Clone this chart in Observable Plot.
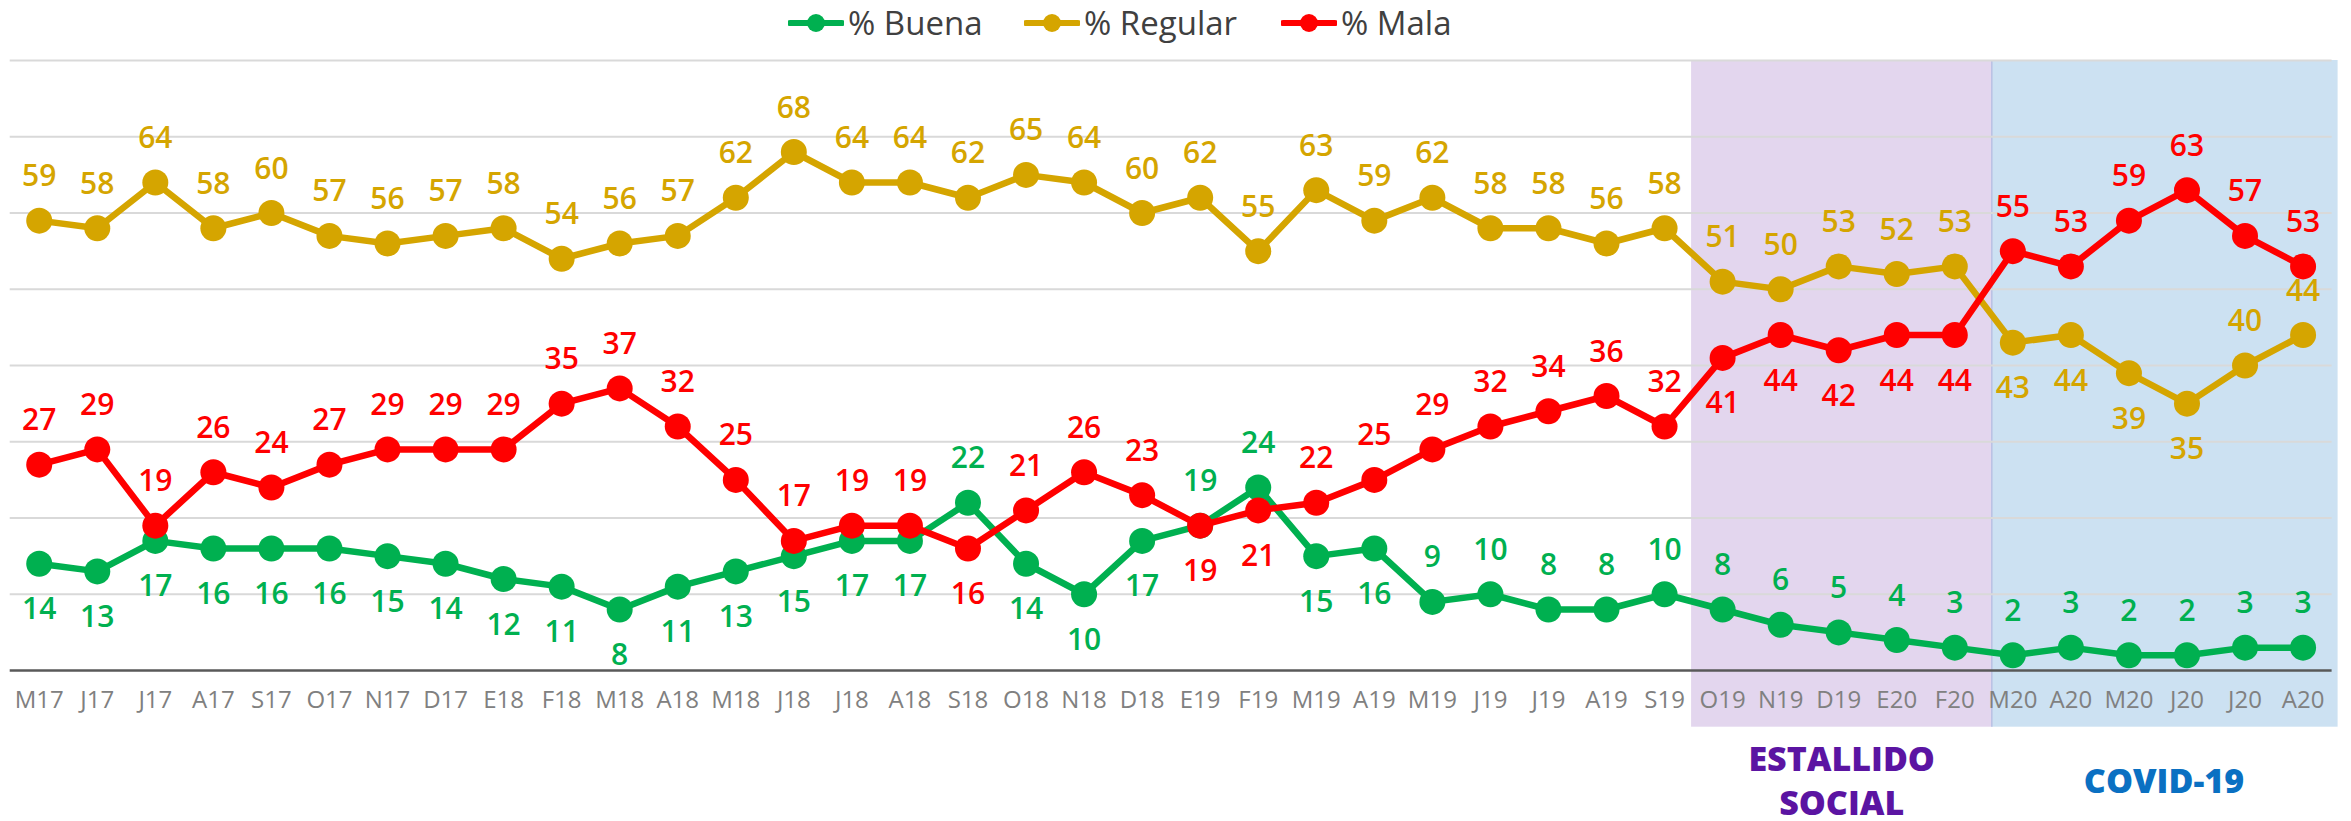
<!DOCTYPE html>
<html>
<head>
<meta charset="utf-8">
<script src="https://cdn.jsdelivr.net/npm/d3@7"></script>
<script src="https://cdn.jsdelivr.net/npm/@observablehq/plot@0.6"></script>
<style>
  html, body { margin: 0; padding: 0; background: #fff; }
  #legend { position: relative; width: 2351px; height: 45px; font-family: "Open Sans", sans-serif; font-size: 33px; font-weight: 500; color: #404040; }
  #legend .items { position: absolute; left: 788px; top: 0; height: 45px; display: flex; align-items: center; gap: 37px; }
  #legend .item { display: flex; align-items: center; gap: 4px; white-space: nowrap; }
  #chart svg { display: block; }
</style>
</head>
<body>
<div id="legend"><div class="items"></div></div>
<div id="chart"></div>
<script>
const months = ["M17","J17","J17","A17","S17","O17","N17","D17","E18","F18","M18","A18","M18","J18","J18","A18","S18","O18","N18","D18","E19","F19","M19","A19","M19","J19","J19","A19","S19","O19","N19","D19","E20","F20","M20","A20","M20","J20","J20","A20"];
const buena   = [14,13,17,16,16,16,15,14,12,11,8,11,13,15,17,17,22,14,10,17,19,24,15,16,9,10,8,8,10,8,6,5,4,3,2,3,2,2,3,3];
const regular = [59,58,64,58,60,57,56,57,58,54,56,57,62,68,64,64,62,65,64,60,62,55,63,59,62,58,58,56,58,51,50,53,52,53,43,44,39,35,40,44];
const mala    = [27,29,19,26,24,27,29,29,29,35,37,32,25,17,19,19,16,21,26,23,19,21,22,25,29,32,34,36,32,41,44,42,44,44,55,53,59,63,57,53];

// label side per point: A = above, B = below
const buenaSide   = "BBBBBBBBBBBBBBBBABBBAABBAAAAAAAAAAAAAAAA";
const regularSide = "AAAAAAAAAAAAAAAAAAAAAAAAAAAAAAAAAABBBBAA";
const malaSide    = "AAAAAAAAAAAAAAAABAAABBAAAAAAABBBBBAAAAAA";

const seriesNames  = ["% Buena", "% Regular", "% Mala"];
const seriesColors = ["#00b050", "#d5a500", "#ff0000"];

const periods = [
  {name: "ESTALLIDO\nSOCIAL", from: 29, to: 33},
  {name: "COVID-19", from: 34, to: 39}
];
const periodFills = ["#e3d6ee", "#cce1f2"];
const periodText  = ["#5b14a2", "#0a70c2"];

const series = [
  {name: seriesNames[0], values: buena, side: buenaSide, color: seriesColors[0]},
  {name: seriesNames[1], values: regular, side: regularSide, color: seriesColors[1]},
  {name: seriesNames[2], values: mala, side: malaSide, color: seriesColors[2]}
];

const rows = s => s.values.map((v, i) => ({i, v, side: s.side[i]}));

// legend
const legendTextWidths = [139, 160, 117];
const items = document.querySelector("#legend .items");
series.forEach((s, k) => {
  const el = document.createElement("div");
  el.className = "item";
  el.innerHTML = `<svg width="56" height="20" viewBox="0 0 56 20"><line x1="2" y1="10" x2="54" y2="10" stroke="${s.color}" stroke-width="6" stroke-linecap="round"/><circle cx="28" cy="10" r="9" fill="${s.color}"/></svg><span style="display:inline-block;min-width:${legendTextWidths[k]}px">${s.name}</span>`;
  items.appendChild(el);
});

const lineMarks = [];
const order = [1, 0, 2];
order.forEach(k => {
  const s = series[k];
  const data = rows(s);
  lineMarks.push(Plot.line(data, {x: "i", y: "v", stroke: s.color, strokeWidth: 6.5}));
  lineMarks.push(Plot.dot(data, {x: "i", y: "v", r: 13, fill: s.color, stroke: "none"}));
});
const labelMarks = [];
series.forEach(s => {
  const data = rows(s);
  labelMarks.push(Plot.text(data.filter(d => d.side === "A"), {x: "i", y: "v", text: d => String(d.v), dy: -44, fill: s.color, fontSize: 30, fontWeight: 600}));
  labelMarks.push(Plot.text(data.filter(d => d.side === "B"), {x: "i", y: "v", text: d => String(d.v), dy: 46, fill: s.color, fontSize: 30, fontWeight: 600}));
});

const chart = Plot.plot({
  width: 2351,
  height: 776,
  marginTop: 15,
  marginBottom: 151,
  marginLeft: 9.7,
  marginRight: 19.4,
  x: {type: "linear", domain: [-0.5, 39.5], axis: null},
  y: {domain: [0, 80], axis: null},
  style: {fontFamily: "'Open Sans', sans-serif", background: "white", overflow: "visible"},
  marks: [
    Plot.rect([periods[0]], {x1: d => d.from - 0.5, x2: d => d.to + 0.5, y1: 0, y2: 80, fill: periodFills[0], insetBottom: -56.7, insetLeft: -2, insetRight: -8}),
    Plot.rect([periods[1]], {x1: d => d.from - 0.5, x2: d => d.to + 0.5, y1: 0, y2: 80, fill: periodFills[1], insetBottom: -56.7, insetLeft: 8, insetRight: -6}),
    Plot.ruleX([periods[1]], {x: d => d.from - 0.5, y1: 80, y2: 0, dx: 8, stroke: "#b9bfe3", strokeWidth: 1.5, insetBottom: -56.7}),
    Plot.ruleY(d3.range(10, 81, 10), {stroke: "#d9d9d9", strokeWidth: 2}),
    Plot.ruleY([0], {stroke: "#595959", strokeWidth: 2.5}),
    Plot.axisX({ticks: d3.range(months.length), tickFormat: i => months[i], tickSize: 0, tickPadding: 20, fontSize: 24, fontWeight: 500, color: "#808080", label: null}),
    ...lineMarks,
    ...labelMarks,
    Plot.text([periods[0]], {x: d => (d.from + d.to) / 2, y: 0, text: "name", dy: 108, dx: 3, fontSize: 34, fontWeight: 800, lineHeight: 1.3, fill: periodText[0]}),
    Plot.text([periods[1]], {x: d => (d.from + d.to) / 2, y: 0, text: "name", dy: 112, dx: 6, fontSize: 34, fontWeight: 800, fill: periodText[1]})
  ]
});
document.getElementById("chart").appendChild(chart);
</script>
</body>
</html>
